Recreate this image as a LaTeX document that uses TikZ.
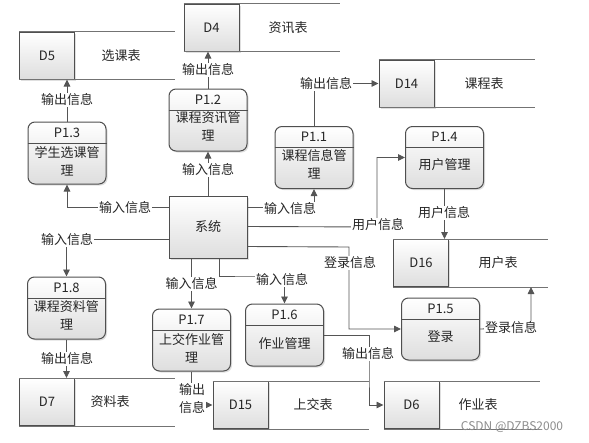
\documentclass[tikz,border=0pt]{standalone}
\usepackage{fontspec}
\setmainfont{Noto Sans CJK SC}
\usetikzlibrary{arrows.meta,shadows,calc}
\definecolor{ln}{HTML}{555555}
\definecolor{bd}{HTML}{4F4F4F}
\begin{document}
\begin{tikzpicture}[x=1pt,y=-1pt,
  every node/.style={font=\fontsize{13}{18}\selectfont, text=black!85},
  shade/.style={top color=white, bottom color=black!13,
    drop shadow={shadow xshift=1.5pt, shadow yshift=-1.5pt, opacity=0.25}},
  proc/.style={draw=bd, line width=1pt, rounded corners=7pt, minimum width=78pt, minimum height=62pt, shade},
  sysbox/.style={draw=bd, line width=1pt, minimum width=78pt, minimum height=62pt, shade},
  sid/.style={draw=bd, line width=1pt, minimum width=55pt, minimum height=47pt, shade},
  sline/.style={draw=black!55, line width=1pt},
  divl/.style={draw=bd, line width=0.9pt},
  conn/.style={draw=ln, line width=0.9pt, -{Triangle[length=7pt,width=6.5pt]}},
  lbl/.style={fill=white, inner sep=1pt},
  ptitle/.style={inner sep=0pt},
  pbody/.style={inner sep=0pt, align=center}
]
\useasboundingbox (0,0) rectangle (589,442);

% ---------- data stores ----------
\node[sid] (d5) at (47,55.5) {D5};
\draw[sline] (d5.north west) -- ++(156,0);
\draw[sline] (d5.south west) -- ++(156,0);
\node (d5t) at (121,55.5) {选课表};

\node[sid] (d4) at (211.5,27.5) {D4};
\draw[sline] (d4.north west) -- ++(156,0);
\draw[sline] (d4.south west) -- ++(156,0);
\node (d4t) at (288,27.5) {资讯表};

\node[sid] (d14) at (406.5,83.5) {D14};
\draw[sline] (d14.north west) -- ++(156,0);
\draw[sline] (d14.south west) -- ++(156,0);
\node (d14t) at (484,83.5) {课程表};

\node[sid] (d16) at (421,263) {D16};
\draw[sline] (d16.north west) -- ++(155,0);
\draw[sline] (d16.south west) -- ++(155,0);
\node (d16t) at (498,263) {用户表};

\node[sid] (d7) at (47,402) {D7};
\draw[sline] (d7.north west) -- ++(156,0);
\draw[sline] (d7.south west) -- ++(156,0);
\node (d7t) at (110,402) {资料表};

\node[sid] (d15) at (240.5,405) {D15};
\draw[sline] (d15.north west) -- ++(156,0);
\draw[sline] (d15.south west) -- ++(156,0);
\node (d15t) at (313,405) {上交表};

\node[sid] (d6) at (411.5,405) {D6};
\draw[sline] (d6.north west) -- ++(156,0);
\draw[sline] (d6.south west) -- ++(156,0);
\node (d6t) at (478,405) {作业表};

% ---------- system ----------
\node[sysbox] (sys) at (208,227) {系统};

% ---------- processes ----------
\node[proc] (p12) at (208,120) {};
\node[proc] (p13) at (67,153) {};
\node[proc] (p11) at (314,157.5) {};
\node[proc] (p14) at (444.5,157.5) {};
\node[proc] (p15) at (440.5,329) {};
\node[proc] (p16) at (284.5,335) {};
\node[proc] (p17) at (191.5,340) {};
\node[proc] (p18) at (66.5,308) {};

\foreach \p in {p12,p13,p11,p14,p15,p16,p17,p18}{
  \draw[divl] ([yshift=-21.5pt]\p.north west) -- ([yshift=-21.5pt]\p.north east);
}

\node[ptitle] (p12a) at ([yshift=-11pt]p12.north) {P1.2};
\node[pbody] (p12b) at ([yshift=-38pt]p12.north) {课程资讯管\\理};
\node[ptitle] (p13a) at ([yshift=-11pt]p13.north) {P1.3};
\node[pbody] (p13b) at ([yshift=-40pt]p13.north) {学生选课管\\理};
\node[ptitle] (p11a) at ([yshift=-11pt]p11.north) {P1.1};
\node[pbody] (p11b) at ([yshift=-38pt]p11.north) {课程信息管\\理};
\node[ptitle] (p14a) at ([yshift=-11pt]p14.north) {P1.4};
\node[pbody] (p14b) at ([yshift=-39pt]p14.north) {用户管理};
\node[ptitle] (p15a) at ([yshift=-11pt]p15.north) {P1.5};
\node[pbody] (p15b) at ([yshift=-39pt]p15.north) {登录};
\node[ptitle] (p16a) at ([yshift=-11pt]p16.north) {P1.6};
\node[pbody] (p16b) at ([yshift=-40pt]p16.north) {作业管理};
\node[ptitle] (p17a) at ([yshift=-11pt]p17.north) {P1.7};
\node[pbody] (p17b) at ([yshift=-40pt]p17.north) {上交作业管\\理};
\node[ptitle] (p18a) at ([yshift=-11pt]p18.north) {P1.8};
\node[pbody] (p18b) at ([yshift=-39pt]p18.north) {课程资料管\\理};

% ---------- connectors ----------
\coordinate (c7) at (377,227);
\coordinate (c9) at (349,247);
\coordinate (c10) at (531,328);
\coordinate (c11) at (250,276);
\coordinate (c16) at (369,370);

\draw[conn] (p12.north) -- (p12.north |- d4.south);
\draw[conn] (p13.north) -- (p13.north |- d5.south);
\draw[conn] (sys.north) -- (p12.south);
\draw[conn] ([yshift=-12pt]sys.north west) -| (p13.south);
\draw[conn] ([yshift=-12pt]sys.north east) -| (p11.south);
\draw[conn] (p11.north) |- (d14.west);
\draw[conn] ([yshift=-31pt]sys.north east) -- (c7) |- (p14.west);
\draw[conn] (p14.south) -- (p14.south |- d16.north);
\draw[conn] ([yshift=-51pt]sys.north east) -- (c9) |- (p15.west);
\draw[conn] (p15.east) -- (c10) -- (c10 |- d16.south);
\draw[conn] ([xshift=51pt]sys.south west) |- (c11) -| (p16.north);
\draw[conn] (p17.north |- sys.south) -- (p17.north);
\draw[conn] ([yshift=-44pt]sys.north west) -| (p18.north);
\draw[conn] (p18.south) -- (p18.south |- d7.north);
\draw[conn] (p17.south) |- (d15.west);
\draw[conn] (p16.east) -| (c16) |- (d6.west);

% ---------- labels ----------
\node[lbl] (l1) at (208,70) {输出信息};
\node[lbl] (l2) at (67,100) {输出信息};
\node[lbl] (l3) at (208,170) {输入信息};
\node[lbl] (l4) at (125,208) {输入信息};
\node[lbl] (l5) at (290,209) {输入信息};
\node[lbl] (l6) at (326,84) {输出信息};
\node[lbl] (l7) at (378,225) {用户信息};
\node[lbl] (l8) at (444,213) {用户信息};
\node[lbl] (l9) at (350,263) {登录信息};
\node[lbl] (l10) at (511,328) {登录信息};
\node[lbl] (l11) at (282,280) {输入信息};
\node[lbl] (l12) at (191.5,284) {输入信息};
\node[lbl] (l13) at (67,240) {输入信息};
\node[lbl] (l14) at (67,359) {输出信息};
\node[lbl, align=center] (l15) at (192,399) {输出\\信息};
\node[lbl] (l16) at (368,354) {输出信息};

\node[text=black!45, font=\fontsize{12}{13}\selectfont] (wm) at (512,427) {CSDN @DZBS2000};
\end{tikzpicture}
\end{document}
